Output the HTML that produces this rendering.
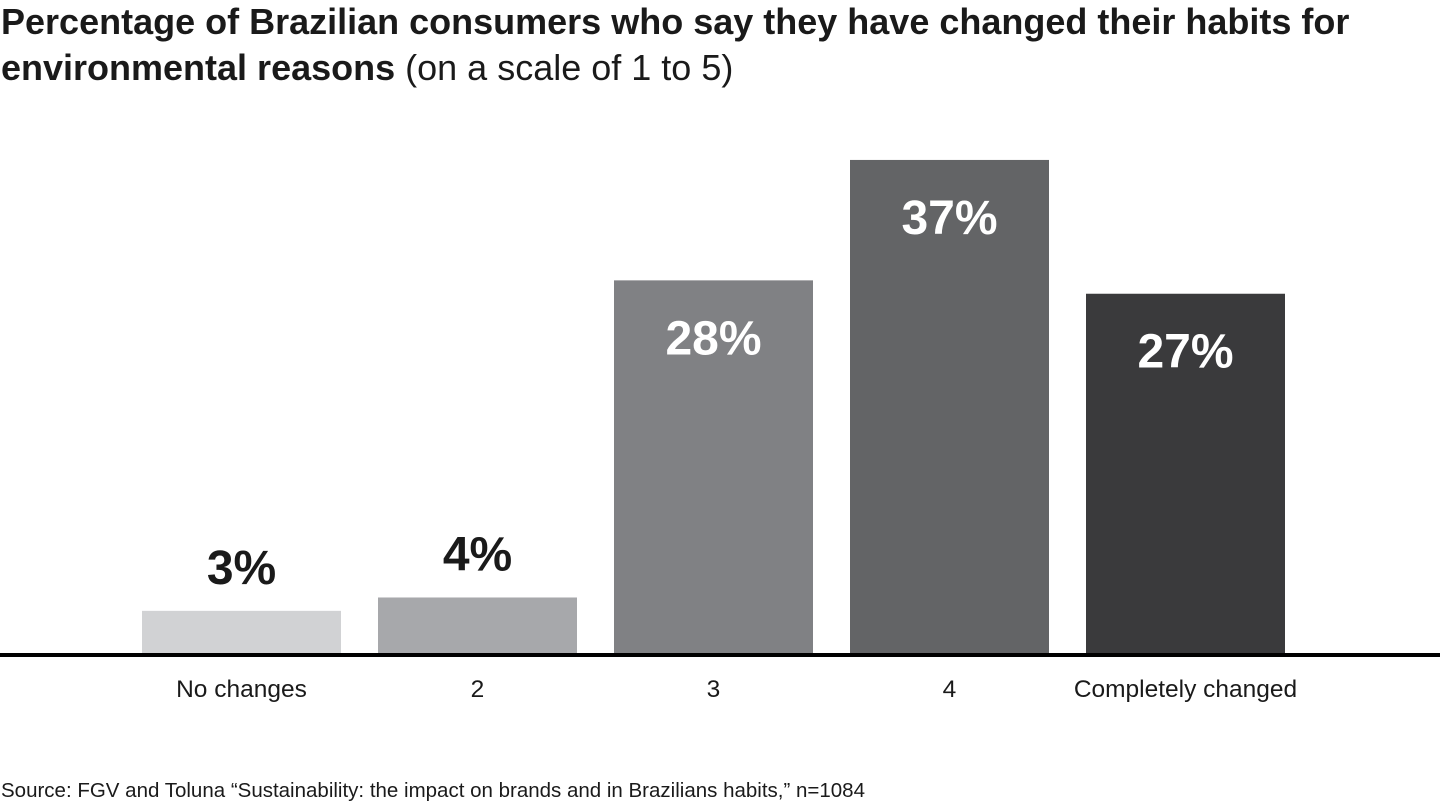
<!DOCTYPE html>
<html><head><meta charset="utf-8"><style>
body{margin:0;width:1440px;height:810px;background:#fff;font-family:"Liberation Sans",Arial,sans-serif;overflow:hidden;position:relative}
#title{position:absolute;left:1px;top:-1px;font-size:36px;line-height:46px;color:#1a1a1a;margin:0;font-weight:normal;white-space:nowrap}
#title b{font-weight:bold}
#source{position:absolute;left:1px;top:779px;font-size:20.5px;color:#1a1a1a;white-space:nowrap}
</style></head><body>
<h1 id="title"><b>Percentage of Brazilian consumers who say they have changed their habits for<br>environmental reasons</b> (on a scale of 1 to 5)</h1>
<svg id="chart" width="1440" height="810" style="position:absolute;left:0;top:0"></svg>
<div id="source">Source: FGV and Toluna “Sustainability: the impact on brands and in Brazilians habits,” n=1084</div>
<script>
const categories=["No changes","2","3","4","Completely changed"];
const values=[3,4,28,37,27];
const colors=["#d1d2d4","#a7a8ab","#808184","#636466","#3a3a3c"];
const svg=document.getElementById('chart');
const NS='http://www.w3.org/2000/svg';
const baseY=655, pxPer=13.38, x0=142, pitch=236, bw=199;
const yScale=v=>baseY-v*pxPer-(v<10?4:0);
const xScale=i=>x0+i*pitch;
function mk(t,a){const e=document.createElementNS(NS,t);for(const k in a)e.setAttribute(k,a[k]);svg.appendChild(e);return e;}
values.forEach((v,i)=>{
  const r=mk('rect',{x:xScale(i),y:yScale(v),width:bw,height:baseY-yScale(v),fill:colors[i]});
  
  
  const inside=v>10;
  const t=mk('text',{x:xScale(i)+bw/2,y:inside?yScale(v)+74:yScale(v)-27,'text-anchor':'middle','font-size':48,'font-weight':'bold',fill:inside?'#fff':'#1a1a1a','font-family':'Liberation Sans, Arial, sans-serif'});
  t.textContent=v+'%';
  
  
  const c=mk('text',{x:xScale(i)+bw/2,y:697,'text-anchor':'middle','font-size':24.5,fill:'#1a1a1a','font-family':'Liberation Sans, Arial, sans-serif'});
  c.textContent=categories[i];
  
  
});
const ax=mk('rect',{x:0,y:baseY-2,width:1440,height:4,fill:'#000'});


</script>
</body></html>
